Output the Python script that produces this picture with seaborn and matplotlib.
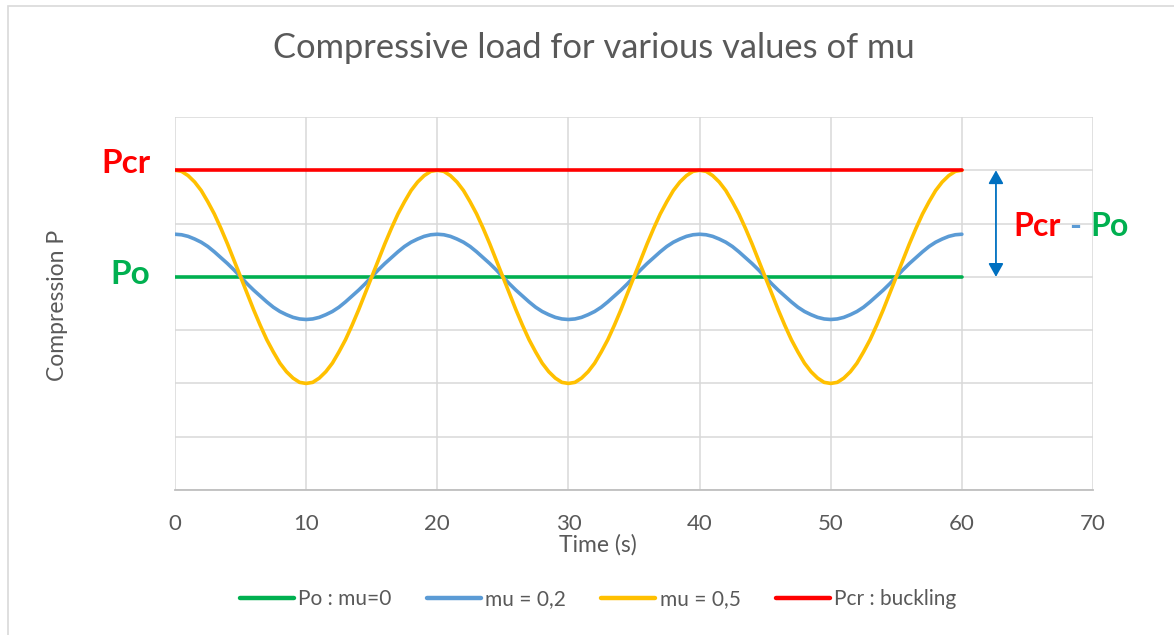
import matplotlib
matplotlib.use("Agg")
import matplotlib.pyplot as plt
from matplotlib.patches import Rectangle, FancyArrowPatch
import numpy as np
import pandas as pd
import seaborn as sns

# Time axis (s), sampled every half second
time_s = np.arange(0, 60.5, 0.5)

# Compression levels (arbitrary units)
p_o = [4.0] * len(time_s)
p_cr = [6.0] * len(time_s)
mu_02 = [
    4.80, 4.79, 4.76, 4.71, 4.65, 4.57, 4.47, 4.36, 4.25, 4.13,
    4.00, 3.87, 3.75, 3.64, 3.53, 3.43, 3.35, 3.29, 3.24, 3.21,
    3.20, 3.21, 3.24, 3.29, 3.35, 3.43, 3.53, 3.64, 3.75, 3.87,
    4.00, 4.13, 4.25, 4.36, 4.47, 4.57, 4.65, 4.71, 4.76, 4.79,
    4.80, 4.79, 4.76, 4.71, 4.65, 4.57, 4.47, 4.36, 4.25, 4.13,
    4.00, 3.87, 3.75, 3.64, 3.53, 3.43, 3.35, 3.29, 3.24, 3.21,
    3.20, 3.21, 3.24, 3.29, 3.35, 3.43, 3.53, 3.64, 3.75, 3.87,
    4.00, 4.13, 4.25, 4.36, 4.47, 4.57, 4.65, 4.71, 4.76, 4.79,
    4.80, 4.79, 4.76, 4.71, 4.65, 4.57, 4.47, 4.36, 4.25, 4.13,
    4.00, 3.87, 3.75, 3.64, 3.53, 3.43, 3.35, 3.29, 3.24, 3.21,
    3.20, 3.21, 3.24, 3.29, 3.35, 3.43, 3.53, 3.64, 3.75, 3.87,
    4.00, 4.13, 4.25, 4.36, 4.47, 4.57, 4.65, 4.71, 4.76, 4.79,
    4.80,
]
mu_05 = [
    6.00, 5.98, 5.90, 5.78, 5.62, 5.41, 5.18, 4.91, 4.62, 4.31,
    4.00, 3.69, 3.38, 3.09, 2.82, 2.59, 2.38, 2.22, 2.10, 2.02,
    2.00, 2.02, 2.10, 2.22, 2.38, 2.59, 2.82, 3.09, 3.38, 3.69,
    4.00, 4.31, 4.62, 4.91, 5.18, 5.41, 5.62, 5.78, 5.90, 5.98,
    6.00, 5.98, 5.90, 5.78, 5.62, 5.41, 5.18, 4.91, 4.62, 4.31,
    4.00, 3.69, 3.38, 3.09, 2.82, 2.59, 2.38, 2.22, 2.10, 2.02,
    2.00, 2.02, 2.10, 2.22, 2.38, 2.59, 2.82, 3.09, 3.38, 3.69,
    4.00, 4.31, 4.62, 4.91, 5.18, 5.41, 5.62, 5.78, 5.90, 5.98,
    6.00, 5.98, 5.90, 5.78, 5.62, 5.41, 5.18, 4.91, 4.62, 4.31,
    4.00, 3.69, 3.38, 3.09, 2.82, 2.59, 2.38, 2.22, 2.10, 2.02,
    2.00, 2.02, 2.10, 2.22, 2.38, 2.59, 2.82, 3.09, 3.38, 3.69,
    4.00, 4.31, 4.62, 4.91, 5.18, 5.41, 5.62, 5.78, 5.90, 5.98,
    6.00,
]

series_names = ["Po : mu=0", "mu = 0,2", "mu = 0,5", "Pcr : buckling"]
series_values = [p_o, mu_02, mu_05, p_cr]
series_colors = ["#00B050", "#5B9BD5", "#FFC000", "#FF0000"]

x_ticks = [0, 10, 20, 30, 40, 50, 60, 70]

frames = [
    pd.DataFrame({"Time (s)": time_s, "P": vals, "series": name})
    for name, vals in zip(series_names, series_values)
]
df = pd.concat(frames, ignore_index=True)

sns.set_style("white")
plt.rcParams["font.family"] = ["Lato", "DejaVu Sans"]

W, H = 1174, 635
fig = plt.figure(figsize=(W / 100, H / 100), dpi=100)
ax = fig.add_axes([175 / W, 1 - 490 / H, 918 / W, 373 / H])

grid_c = "#D9D9D9"
text_c = "#595959"

sns.lineplot(
    data=df, x="Time (s)", y="P", hue="series",
    hue_order=series_names, palette=series_colors,
    linewidth=2.6, ax=ax, legend=False, sort=False,
)
for ln in ax.lines:
    ln.set_solid_joinstyle("round")

ax.set_xlim(0, 70)
ax.set_ylim(0, 7)
ax.set_xticks(x_ticks)
ax.set_xticklabels([str(t) for t in x_ticks])
ax.set_yticks(range(0, 8))
ax.set_yticklabels([])
ax.grid(True, color=grid_c, linewidth=1.1)
ax.set_axisbelow(True)
ax.tick_params(axis="both", length=0, colors=text_c, labelsize=16)
ax.tick_params(axis="x", pad=17)
for side in ["top", "right", "left"]:
    ax.spines[side].set_visible(False)
ax.spines["bottom"].set_color("#BFBFBF")
ax.spines["bottom"].set_linewidth(1.3)
ax.set_xlabel("")
ax.set_ylabel("")

# Axis titles and chart title
fig.text(598 / W, 1 - 545 / H, "Time (s)", ha="center", va="center",
         color=text_c, fontsize=16.5)
fig.text(57 / W, 1 - 305 / H, "Compression P", ha="center", va="center",
         rotation=90, color=text_c, fontsize=16.5)
fig.text(594 / W, 1 - 48 / H, "Compressive load for various values of mu",
         ha="center", va="center", color=text_c, fontsize=24.8)

# Level labels on the left
fig.text(150 / W, 1 - 164 / H, "Pcr", ha="right", va="center",
         color="#FF0000", fontsize=24, fontweight="bold")
fig.text(150 / W, 1 - 274 / H, "Po", ha="right", va="center",
         color="#00B050", fontsize=24, fontweight="bold")

# Double arrow showing the gap between Pcr and Po
arrow = FancyArrowPatch((62.6, 4.0), (62.6, 6.0), transform=ax.transData,
                        arrowstyle="<|-|>,head_length=8,head_width=4.5",
                        color="#0070C0", linewidth=1.3,
                        shrinkA=0, shrinkB=0, clip_on=False)
ax.add_patch(arrow)
t1 = fig.text(1013 / W, 1 - 227 / H, "Pcr", ha="left", va="center",
              color="#FF0000", fontsize=23, fontweight="bold")
fig.canvas.draw()
r = fig.canvas.get_renderer()
bb = t1.get_window_extent(r)
t2 = fig.text((bb.x1 + 9) / W, 1 - 227 / H, "-", ha="left", va="center",
              color="#5B9BD5", fontsize=23, fontweight="bold")
bb2 = t2.get_window_extent(r)
fig.text((bb2.x1 + 9) / W, 1 - 227 / H, "Po", ha="left", va="center",
         color="#00B050", fontsize=23, fontweight="bold")

# Legend below the plot
handles = [plt.Line2D([], [], color=c, linewidth=3.2) for c in series_colors]
fig.legend(handles, series_names, loc="center", ncol=4,
           bbox_to_anchor=(598 / W, 1 - 599 / H), frameon=False,
           fontsize=15, labelcolor=text_c, handlelength=2.6,
           handletextpad=0.2, columnspacing=1.7)

# Chart frame
fig.patches.append(Rectangle((7.5 / W, -0.05), 1.2, 1 - 5.5 / H + 0.05,
                             transform=fig.transFigure, fill=False,
                             edgecolor="#D9D9D9", linewidth=1.2))

fig.savefig("out.png", dpi=100, facecolor="white")
